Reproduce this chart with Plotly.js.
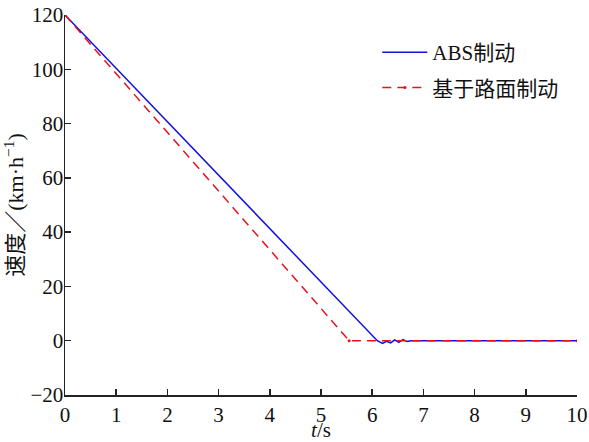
<!DOCTYPE html>
<html>
<head>
<meta charset="utf-8">
<script src="https://cdn.plot.ly/plotly-3.0.1.min.js"></script>
<style>html,body{margin:0;padding:0;background:#fff;}</style>
</head>
<body>
<div id="chart" style="width:589px;height:442px;"></div>
<script>
// Data
const absT = [0, 6.1, 6.2, 6.28, 6.36, 6.44, 6.52, 6.6, 6.68, 6.76, 10];
const absV = [120, 0, -1.0, -0.2, -0.8, 0.3, -0.6, 0.4, -0.3, 0, 0];
const roadT = [0, 5.55, 10];
const roadV = [120, 0, 0];
const seriesNames = ['ABS制动', '基于路面制动'];
const xTicks = [0, 1, 2, 3, 4, 5, 6, 7, 8, 9, 10];
const yTicks = [-20, 0, 20, 40, 60, 80, 100, 120];
const yTickText = ['\u221220', '0', '20', '40', '60', '80', '100', '120'];

const FONT = '"Liberation Serif", "Noto Sans CJK SC", serif';

const traces = [
  {
    x: absT, y: absV, name: seriesNames[0], mode: 'lines',
    legendgroup: 'a',
    line: {color: '#1010e0', width: 1.5}
  },
  {
    x: roadT, y: roadV, name: seriesNames[1], mode: 'lines+markers',
    legendgroup: 'b',
    line: {color: '#e8121b', width: 1.5, dash: '9px,6px'},
    marker: {color: '#e8121b', size: 3}
  }
];

const layout = {
  width: 589, height: 442,
  margin: {l: 65, r: 12, t: 15, b: 47},
  paper_bgcolor: '#fff', plot_bgcolor: '#fff',
  font: {family: FONT, size: 21, color: '#111'},
  showlegend: true,
  legend: {
    x: 0.61, y: 0.955, xanchor: 'left', yanchor: 'top',
    bgcolor: 'rgba(0,0,0,0)', tracegroupgap: 5, itemwidth: 45,
    font: {family: FONT, size: 21, color: '#111'}
  },
  xaxis: {
    range: [0, 10], tickvals: xTicks, ticktext: xTicks.map(String),
    ticks: 'inside', ticklen: 6, tickwidth: 1.5, tickcolor: '#222',
    showline: true, linecolor: '#222', linewidth: 1.5,
    showgrid: false, zeroline: false, mirror: false,
    tickfont: {family: FONT, size: 21},
    title: {text: '<i>t</i>/s', font: {family: FONT, size: 21}, standoff: 0},
    automargin: false
  },
  yaxis: {
    range: [-20, 120], tickvals: yTicks, ticktext: yTickText,
    ticks: 'inside', ticklen: 6, tickwidth: 1.5, tickcolor: '#222',
    showline: true, linecolor: '#222', linewidth: 1.5,
    showgrid: false, zeroline: false, mirror: false,
    tickfont: {family: FONT, size: 21}, ticklabelstandoff: -4,
    title: {text: '速度／(km·h<sup>−1</sup>)', font: {family: FONT, size: 22}, standoff: 4},
    automargin: false
  }
};

Plotly.newPlot('chart', traces, layout, {displayModeBar: false, staticPlot: true});
</script>
</body>
</html>
